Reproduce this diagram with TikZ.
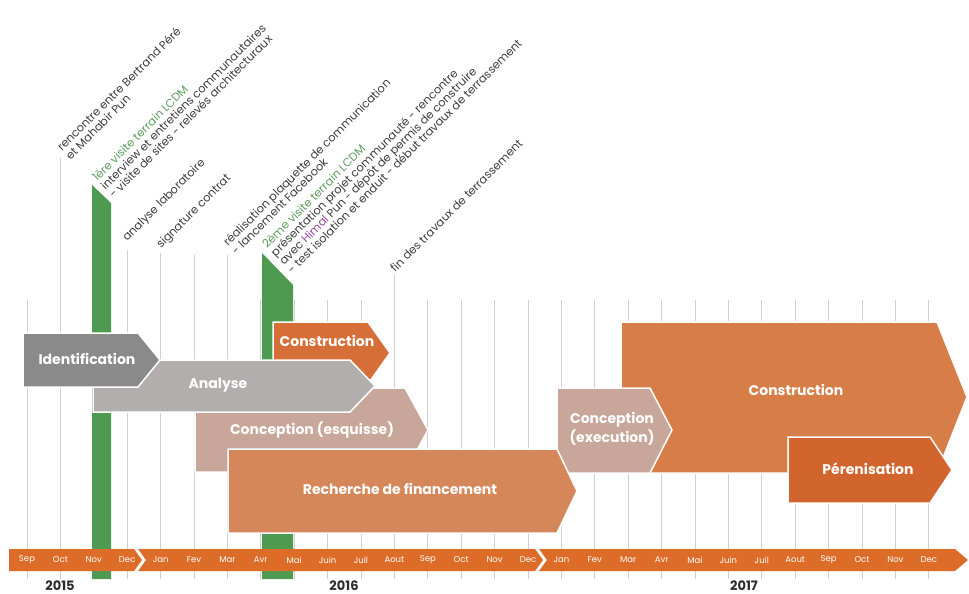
\documentclass[tikz,border=0pt]{standalone}
\usepackage{fontspec}
\setmainfont{Poppins}
\usetikzlibrary{positioning}
\definecolor{tlorange}{RGB}{220,108,40}
\definecolor{tlgris}{RGB}{138,138,138}
\definecolor{tlgrisclair}{RGB}{179,174,174}
\definecolor{tlbeige}{RGB}{200,166,153}
\definecolor{tlrecherche}{RGB}{214,135,90}
\definecolor{tlconstr}{RGB}{214,110,55}
\definecolor{tlconstrb}{RGB}{215,125,72}
\definecolor{tlperen}{RGB}{210,100,45}
\definecolor{tlgreen}{RGB}{78,154,80}
\definecolor{tlvert}{RGB}{92,156,92}
\definecolor{tlviolet}{RGB}{150,70,160}
\definecolor{tlgrid}{RGB}{208,208,212}
\definecolor{tltext}{RGB}{60,60,60}
\definecolor{tldark}{RGB}{45,45,45}

\begin{document}
\begin{tikzpicture}[x=1pt,y=-1pt,
  grille/.style={draw=tlgrid,line width=0.7pt},
  phase/.style={draw=white,line width=1.5pt,line join=miter},
  titre/.style={text=white,font=\bfseries\fontsize{14}{19}\selectfont,align=center},
  evt/.style={rotate=45,anchor=base west,align=left,inner sep=0pt,text=tltext,font=\fontsize{11.4}{12}\selectfont},
  mois/.style={text=white,font=\fontsize{8.5}{10}\selectfont,inner sep=0pt},
  annee/.style={text=tldark,inner sep=0.5pt,font=\bfseries\fontsize{13}{14}\selectfont}]
\useasboundingbox (0,0) rectangle (969,594);

% Grid
\foreach \i in {0,...,27}
  \draw[grille] (27+33.4*\i,300) -- (27+33.4*\i,579);
\foreach \i/\top in {1/158,3/250,4/253,5/255,6/255,11/275}
  \draw[grille] (27+33.4*\i,\top) -- (27+33.4*\i,300);

% Site visits
\fill[tlgreen] (92,185) -- (111,203) -- (111,579) -- (92,579) -- cycle;
\fill[tlgreen] (262,253) -- (293,285) -- (293,579) -- (262,579) -- cycle;

% Phases 2015-2016
\path[phase,fill=tlconstr] (273,322) -- (368,322) -- (390,353) -- (368,384) -- (273,384) -- cycle;
\path[phase,fill=tlbeige] (195,388) -- (405,388) -- (428,430) -- (405,472) -- (195,472) -- cycle;
\path[phase,fill=tlgrisclair] (93,360) -- (350,360) -- (375,386) -- (350,412) -- (93,412) -- cycle;
\path[phase,fill=tlgris] (23,333) -- (138,333) -- (160,360) -- (138,387) -- (23,387) -- cycle;

% Phases 2017
\path[phase,fill=tlconstrb] (621,322) -- (937,322) -- (967,397) -- (937,473) -- (621,473) -- cycle;
\path[phase,fill=tlbeige] (557,388) -- (650,388) -- (672,430) -- (650,473) -- (557,473) -- cycle;
\path[phase,fill=tlrecherche] (228,449) -- (557,449) -- (577,491) -- (557,533) -- (228,533) -- cycle;
\path[phase,fill=tlperen] (788,437) -- (930,437) -- (952,470) -- (930,503) -- (788,503) -- cycle;

\node[titre] (ident) at (87,359) {Identification};
\node[titre] (analyse) at (218,385) {Analyse};
\node[titre] (constr1) at (327,341) {Construction};
\node[titre] (esquisse) at (312,430) {Conception (esquisse)};
\node[titre] (finance) at (400,489) {Recherche de financement};
\node[titre] (execution) at (612,429) {Conception\\(execution)};
\node[titre] (constr2) at (796,390) {Construction};
\node[titre] (perenn) at (868,469) {Pérenisation};

% Timeline
\fill[tlorange] (9,549) -- (134,549) -- (142,560) -- (134,571) -- (9,571) -- cycle;
\fill[tlorange] (138,549) -- (535,549) -- (543,560) -- (535,571) -- (138,571) -- (146,560) -- cycle;
\fill[tlorange] (539,549) -- (955,549) -- (968,560) -- (955,571) -- (539,571) -- (547,560) -- cycle;
\foreach \m [count=\i from 0] in {Sep,Oct,Nov,Dec,Jan,Fev,Mar,Avr,Mai,Juin,Juil,Aout,Sep,Oct,Nov,Dec,Jan,Fev,Mar,Avr,Mai,Juin,Juil,Aout,Sep,Oct,Nov,Dec}
  \node[mois] (m\i) at (27+33.4*\i,560) {\m};

\node[annee] (an15) at (60,586) {2015};
\node[annee] (an16) at (344,586) {2016};
\node[annee] (an17) at (744,586) {2017};

% Events (anchor = start of the last line)
\node[evt] (rencontre) at (70.5,160.5) {rencontre entre Bertrand Péré\\et Mahabir Pun};
\node[evt] (visite1) at (114,199) {{\color{tlvert}1ère visite terrain LCDM}\\interview et entretiens communautaires\\- visite de sites - relevés architecturaux};
\node[evt] (labo) at (127,242) {analyse laboratoire};
\node[evt] (contrat) at (161,249) {signature contrat};
\node[evt] (plaquette) at (236.5,255.5) {réalisation plaquette de communication\\- lancement Facebook};
\node[evt] (visite2) at (292.5,274.5) {{\color{tlvert}2ème visite terrain LCDM}\\présentation projet communauté - rencontre\\avec {\color{tlviolet}Himal} Pun - dépôt de permis de construire\\- test isolation et enduit - début travaux de terrassement};
\node[evt] (terrassement) at (395,273) {fin des travaux de terrassement};
\end{tikzpicture}
\end{document}
